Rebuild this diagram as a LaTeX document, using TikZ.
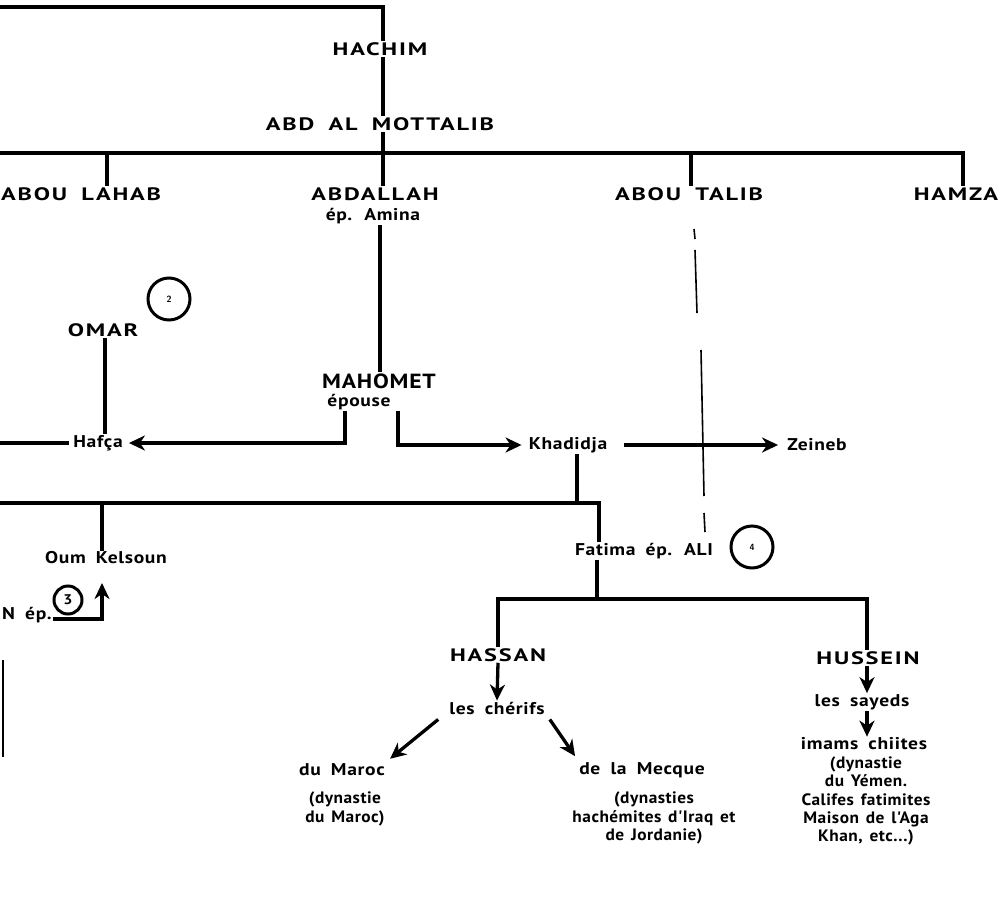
\documentclass[tikz,border=0pt]{standalone}
\usepackage{fontspec}
\usetikzlibrary{arrows.meta}
\newfontfamily\capsf{PT Sans}[FakeStretch=1.35,LetterSpace=10,WordSpace=1.8]
\newfontfamily\lowf{PT Sans}[FakeStretch=1.15,LetterSpace=4,WordSpace=1.8]
\newfontfamily\parf{PT Sans}[FakeStretch=1.05,LetterSpace=3,WordSpace=1.4]
\begin{document}
\begin{tikzpicture}[x=1pt,y=-1pt,
  capl/.style={font=\capsf\bfseries\fontsize{18}{21}\selectfont, inner sep=1pt},
  bigl/.style={font=\lowf\bfseries\fontsize{20.5}{24}\selectfont, inner sep=1pt},
  lowl/.style={font=\lowf\bfseries\fontsize{17}{19}\selectfont, inner sep=1pt, align=center},
  parl/.style={font=\parf\bfseries\fontsize{16.5}{18.3}\selectfont, inner sep=1pt, align=center},
  ln/.style={line width=3.3pt},
  fine/.style={line width=1.6pt},
  arr/.style={line width=3.3pt,-{Stealth[length=16pt,width=15pt,inset=5pt]}},
  num/.style={circle,draw,line width=3pt,inner sep=0pt}]
\useasboundingbox (0,0) rectangle (1007,897);
% labels
\node[capl,anchor=west] (lahab) at (0,194) {ABOU LAHAB};
\node[capl] (hachim) at (380,49) {HACHIM};
\node[capl] (abd) at (380,124) {ABD AL MOTTALIB};
\node[capl] (abdallah) at (375,194) {ABDALLAH};
\node[lowl] (amina) at (373,216) {ép. Amina};
\node[capl] (talib) at (689,194) {ABOU TALIB};
\node[capl] (hamza) at (956,194) {HAMZA};
\node[capl] (omar) at (103,330) {OMAR};
\node[num,minimum size=42pt,font=\sffamily\bfseries\fontsize{9}{10}\selectfont] (c2) at (169,299) {2};
\node[bigl] (mahomet) at (379,381) {MAHOMET};
\node[lowl] (epouse) at (359,402) {épouse};
\node[lowl] (hafca) at (98,443) {Hafça};
\node[lowl] (khadidja) at (568,445) {Khadidja};
\node[lowl] (zeineb) at (817,445) {Zeineb};
\node[lowl] (oum) at (106,558) {Oum Kelsoun};
\node[lowl,anchor=base west] (nep) at (1,619) {N ép.};
\node[num,minimum size=28pt,font=\lowf\bfseries\fontsize{14}{16}\selectfont] (c3) at (68,600) {3};
\node[lowl] (fatima) at (644,551) {Fatima ép. ALI};
\node[num,minimum size=42pt,font=\sffamily\bfseries\fontsize{9}{10}\selectfont] (c4) at (752,547) {4};
\node[capl] (hassan) at (498,655) {HASSAN};
\node[lowl] (cherifs) at (497,708) {les chérifs};
\node[capl] (hussein) at (868,658) {HUSSEIN};
\node[lowl] (sayeds) at (862,702) {les sayeds};
\node[lowl] (imams) at (864,744) {imams chiites};
\node[lowl] (maroc) at (342,770) {du Maroc};
\node[parl] (marocd) at (345,809) {(dynastie\\du Maroc)};
\node[lowl] (mecque) at (642,770) {de la Mecque};
\node[parl] (mecqued) at (654,818) {(dynasties\\hachémites d'Iraq et\\de Jordanie)};
\node[parl] (imamsd) at (866,801) {(dynastie\\du Yémen.\\Califes fatimites\\Maison de l'Aga\\Khan, etc...)};
% coordinates
\coordinate (tl) at (0,7);
\coordinate (tx) at (383,0);
\coordinate (b1l) at (0,153);
\coordinate (b1r) at (963,153);
\coordinate (lx) at (107,0);
\coordinate (tbx) at (691,0);
\coordinate (mx) at (380,0);
\coordinate (ox) at (105,0);
\coordinate (hl) at (0,443);
\coordinate (e1) at (345,0);
\coordinate (e2) at (398,0);
\coordinate (kx) at (577,0);
\coordinate (b2l) at (0,503);
\coordinate (b2r) at (599,503);
\coordinate (okx) at (102,0);
\coordinate (o3) at (102,583);
\coordinate (ll1) at (3,660);
\coordinate (ll2) at (3,757);
\coordinate (fx) at (597,0);
\coordinate (b3) at (0,599);
\coordinate (hx) at (867,0);
\coordinate (t1) at (694,229);
\coordinate (t2) at (695,239);
\coordinate (t3) at (695,250);
\coordinate (t4) at (697,313);
\coordinate (t5) at (701,350);
\coordinate (t6) at (704,496);
\coordinate (t7) at (704,513);
\coordinate (t8) at (705,532);
% connectors
\draw[ln] (tl) -| (tx |- hachim.north);
\draw[ln] (tx |- hachim.south) -- (tx |- abd.north);
\draw[ln] (tx |- abd.south) -- (tx |- b1l);
\draw[ln] (b1l) -- (b1r) -- (b1r |- hamza.north);
\draw[ln] (lx |- b1l) -- (lx |- lahab.north);
\draw[ln] (tx |- b1l) -- (tx |- abdallah.north);
\draw[ln] (tbx |- b1l) -- (tbx |- talib.north);
\draw[ln] (mx |- amina.south) -- (mx |- mahomet.north);
\draw[ln] (ox |- omar.south) -- (ox |- hafca.north);
\draw[ln,shorten >=3pt] (hl) -- (hafca.west);
\draw[arr,shorten >=5pt] (e1 |- epouse.south) |- (hafca.east);
\draw[arr,shorten >=6pt] (e2 |- epouse.south) |- (khadidja.west);
\draw[arr,shorten <=16pt,shorten >=8pt] (khadidja.east) -- (zeineb.west);
\draw[ln] (kx |- khadidja.south) -- (kx |- b2l);
\draw[ln] (b2l) -- (b2r) -- (b2r |- fatima.north);
\draw[ln] (okx |- b2l) -- (okx |- oum.north);
\draw[arr] (nep.base east) -| (o3);
\draw[fine] (ll1) -- (ll2);
\draw[ln] (fx |- fatima.south) -- (fx |- b3);
\draw[ln] (hassan.north) |- (hx |- b3) -- (hx |- hussein.north);
\draw[arr] (hassan.south) -- (cherifs.north);
\draw[arr] ([shift={(-10,4)}]cherifs.south west) -- ([shift={(4,-4)}]maroc.north east);
\draw[arr] ([shift={(4,4)}]cherifs.south east) -- ([shift={(-3,-5)}]mecque.north west);
\draw[arr] (hx |- hussein.south) -- (hx |- sayeds.north);
\draw[arr] (hx |- sayeds.south) -- (hx |- imams.north);
\draw[fine] (t1) -- (t2);
\draw[fine] (t3) -- (t4);
\draw[fine] (t5) -- (t6);
\draw[fine] (t7) -- (t8);
\end{tikzpicture}
\end{document}
